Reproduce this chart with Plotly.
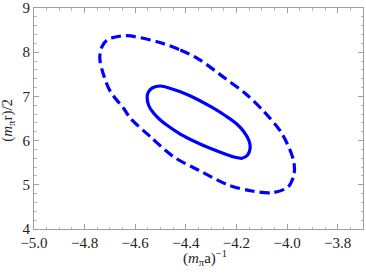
import plotly.graph_objects as go

# Outer (dashed) contour
outer_x = [-4.514, -4.422, -4.350, -4.245, -4.166, -4.091, -4.021, -3.975, -3.972,
           -3.995, -4.060, -4.139, -4.232, -4.343, -4.449, -4.540, -4.619, -4.646,
           -4.698, -4.725, -4.740, -4.732, -4.711, -4.678, -4.632, -4.514]
outer_y = [8.238, 8.050, 7.846, 7.410, 7.070, 6.654, 6.165, 5.561, 5.260,
           4.957, 4.821, 4.860, 4.995, 5.312, 5.636, 6.088, 6.505, 6.731,
           7.106, 7.484, 7.862, 8.118, 8.276, 8.344, 8.373, 8.238]

# Inner (solid) contour
inner_x = [-4.296, -4.245, -4.201, -4.170, -4.150, -4.146, -4.156, -4.178, -4.205,
           -4.245, -4.304, -4.363, -4.422, -4.473, -4.501, -4.527, -4.546, -4.553,
           -4.548, -4.533, -4.501, -4.454, -4.402, -4.350, -4.296]
inner_y = [6.749, 6.568, 6.387, 6.195, 5.991, 5.826, 5.674, 5.600, 5.622,
           5.697, 5.826, 5.975, 6.149, 6.342, 6.466, 6.618, 6.783, 6.986,
           7.100, 7.190, 7.235, 7.167, 7.059, 6.919, 6.749]

x_ticks = [-5.0, -4.8, -4.6, -4.4, -4.2, -4.0, -3.8]
x_tick_labels = ["\u22125.0", "\u22124.8", "\u22124.6", "\u22124.4", "\u22124.2", "\u22124.0", "\u22123.8"]
y_ticks = [4, 5, 6, 7, 8, 9]
y_tick_labels = ["4", "5", "6", "7", "8", "9"]

x_title = "(<i>m</i><sub>\u03c0</sub>a)<sup>\u22121</sup>"
y_title = "(<i>m</i><sub>\u03c0</sub>r)/2"

fig = go.Figure()
fig.add_trace(go.Scatter(x=outer_x, y=outer_y, mode="lines",
                         line=dict(color="#0000FF", width=3.2, dash="10px,5px", shape="spline", smoothing=0.9),
                         hoverinfo="skip", showlegend=False))
fig.add_trace(go.Scatter(x=inner_x, y=inner_y, mode="lines",
                         line=dict(color="#0000FF", width=3.2, shape="spline", smoothing=0.9),
                         hoverinfo="skip", showlegend=False))

font_serif = "Liberation Serif"
axis_common = dict(showgrid=False, zeroline=False, showline=True, linecolor="#a0a0a0",
                   linewidth=1, mirror="ticks", ticks="inside", tickcolor="#a0a0a0",
                   ticklen=5, tickwidth=1, automargin=False,
                   tickfont=dict(family=font_serif, size=15, color="#222222"))

fig.update_xaxes(range=[-5.0, -3.7], tickvals=x_ticks, ticktext=x_tick_labels,
                 minor=dict(dtick=0.05, ticks="inside", ticklen=2.5, tickcolor="#b8b8b8", showgrid=False),
                 **axis_common)
fig.update_yaxes(range=[4, 9], tickvals=y_ticks, ticktext=y_tick_labels,
                 minor=dict(dtick=0.2, ticks="inside", ticklen=2.5, tickcolor="#b8b8b8", showgrid=False),
                 **axis_common)

fig.add_annotation(text=x_title, xref="paper", yref="paper", x=0.52, y=-0.131,
                   xanchor="center", yanchor="middle", showarrow=False,
                   font=dict(family=font_serif, size=15, color="#222222"))
fig.add_annotation(text=y_title, xref="paper", yref="paper", x=-0.080, y=0.493,
                   xanchor="center", yanchor="middle", showarrow=False, textangle=-90,
                   font=dict(family=font_serif, size=15, color="#222222"))

fig.update_layout(width=366, height=274, margin=dict(l=33.5, r=3, t=8, b=45),
                  paper_bgcolor="white", plot_bgcolor="white")

fig.write_html("out.html", config={"displayModeBar": False},
               post_script="document.body.style.margin='0px';")
